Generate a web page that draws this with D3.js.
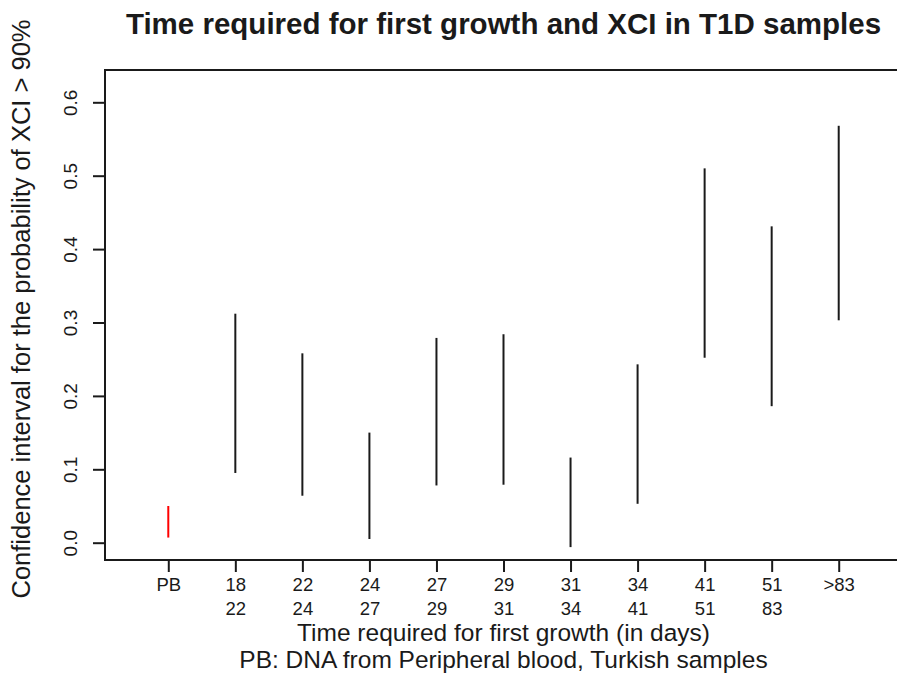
<!DOCTYPE html>
<html><head><meta charset="utf-8">
<script src="https://cdn.jsdelivr.net/npm/d3@7"></script>
<style>body{margin:0;background:#fff}svg{display:block}text{font-family:"Liberation Sans",Arial,Helvetica,sans-serif;fill:#1a1a1a}</style>
</head><body>
<script>
const categories = ["PB","18-22","22-24","24-27","27-29","29-31","31-34","34-41","41-51","51-83",">83"];
const tickLine1 = ["PB","18","22","24","27","29","31","34","41","51",">83"];
const tickLine2 = ["","22","24","27","29","31","34","41","51","83",""];
const lower = [0.007,0.095,0.064,0.005,0.078,0.079,-0.006,0.053,0.252,0.186,0.303];
const upper = [0.050,0.312,0.258,0.150,0.279,0.284,0.116,0.243,0.510,0.431,0.568];
const colors = ["#ff0000","#1a1a1a","#1a1a1a","#1a1a1a","#1a1a1a","#1a1a1a","#1a1a1a","#1a1a1a","#1a1a1a","#1a1a1a","#1a1a1a"];
const yTicks = [0,0.1,0.2,0.3,0.4,0.5,0.6];

const W=897,H=678;
const svg=d3.select("body").append("svg").attr("width",W).attr("height",H);
const box={l:105,r:902,t:70,b:560};
const x=d3.scaleLinear().domain([0.056,11.944]).range([box.l,box.r]);
const y=d3.scaleLinear().domain([0,0.6]).range([542.7,102.3]);

// segments
svg.selectAll("line.seg").data(categories).enter().append("line")
  .attr("x1",(d,i)=>x(i+1)).attr("x2",(d,i)=>x(i+1))
  .attr("y1",(d,i)=>y(lower[i])).attr("y2",(d,i)=>y(upper[i]))
  .attr("stroke",(d,i)=>colors[i]).attr("stroke-width",2);

// box
svg.append("rect").attr("x",box.l).attr("y",box.t).attr("width",box.r-box.l).attr("height",box.b-box.t)
  .attr("fill","none").attr("stroke","#1a1a1a").attr("stroke-width",2);

// y axis
const ya=svg.append("g").attr("transform",`translate(${box.l},0)`)
  .call(d3.axisLeft(y).tickValues(yTicks).tickFormat(d3.format(".1f")).tickSize(12).tickPadding(0));
ya.select(".domain").remove();
ya.selectAll(".tick line").attr("stroke","#1a1a1a").attr("stroke-width",2);
ya.selectAll(".tick text").attr("font-size",19).attr("text-anchor","middle")
  .attr("x",0).attr("dy",0).attr("transform","translate(-34.5,0) rotate(-90)").attr("dominant-baseline","central");

// x axis
const xa=svg.append("g").attr("transform",`translate(0,${box.b})`)
  .call(d3.axisBottom(x).tickValues(d3.range(1,12)).tickFormat((d)=>tickLine1[d-1]).tickSize(12).tickPadding(0));
xa.select(".domain").remove();
xa.selectAll(".tick line").attr("stroke","#1a1a1a").attr("stroke-width",2);
xa.selectAll(".tick text").attr("font-size",18.5).attr("y",31).attr("dy",0);
xa.selectAll(".tick").append("text").attr("y",55).attr("font-size",18.5)
  .attr("text-anchor","middle").attr("fill","#1a1a1a").text(d=>tickLine2[d-1]);

// labels
svg.append("text").attr("x",(box.l+box.r)/2).attr("y",33.5).attr("text-anchor","middle")
  .attr("font-size",29.5).attr("font-weight","bold").text("Time required for first growth and XCI in T1D samples");
svg.append("text").attr("x",(box.l+box.r)/2).attr("y",641).attr("text-anchor","middle")
  .attr("font-size",24.5).text("Time required for first growth (in days)");
svg.append("text").attr("x",(box.l+box.r)/2).attr("y",668).attr("text-anchor","middle")
  .attr("font-size",24.5).text("PB: DNA from Peripheral blood, Turkish samples");
svg.append("text").attr("transform","translate(30,309) rotate(-90)").attr("text-anchor","middle")
  .attr("font-size",25.5).text("Confidence interval for the probability of XCI > 90%");
</script>
</body></html>
